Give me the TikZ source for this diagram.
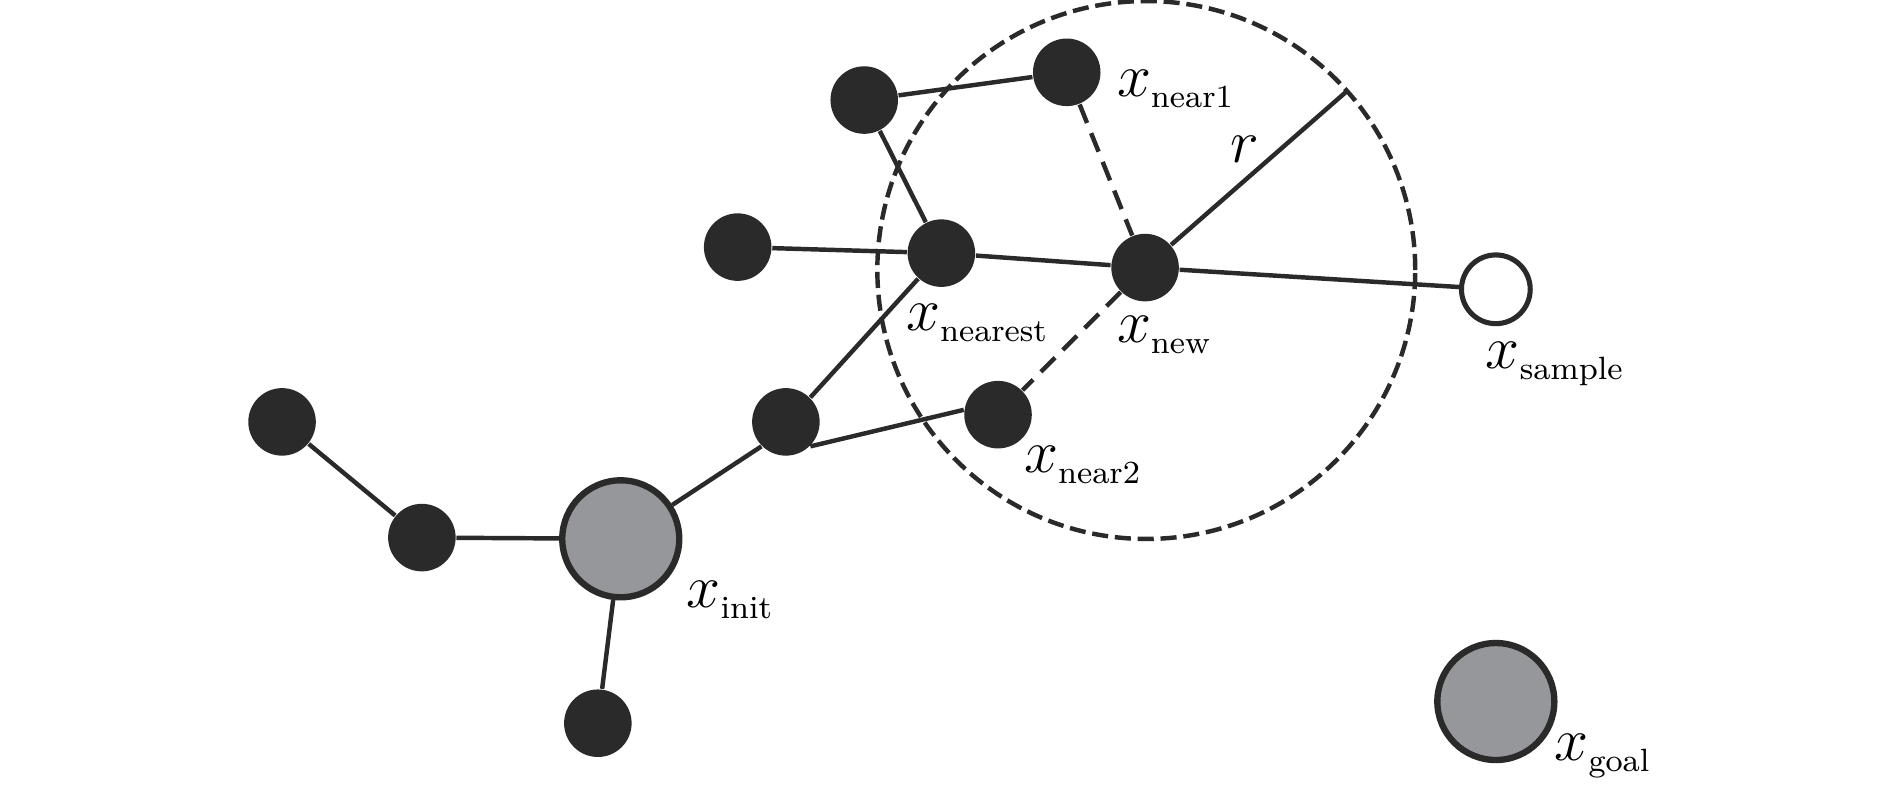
\documentclass[tikz,border=0pt]{standalone}
\definecolor{nodeblk}{HTML}{2B2A2B}
\definecolor{nodegray}{HTML}{96979B}
\newcommand{\xlab}[1]{$x\raisebox{-2.6pt}{\fontsize{7.6}{9}\selectfont\rmfamily #1}$}
\tikzset{
  blk/.style={circle, fill=nodeblk, minimum size=0.56cm, inner sep=0pt},
  grayn/.style={circle, fill=nodegray, draw=nodeblk, line width=1.5pt, minimum size=0.97cm, inner sep=0pt},
  opn/.style={circle, fill=white, draw=nodeblk, line width=1.2pt, minimum size=0.57cm, inner sep=0pt},
  edge/.style={draw=nodeblk, line width=1.05pt},
  dedge/.style={draw=nodeblk, line width=1.05pt, dash pattern=on 4.7pt off 2.6pt},
  lbl/.style={font=\fontsize{14}{16}\selectfont, inner sep=0pt, anchor=base west}
}
\begin{document}
\begin{tikzpicture}[x=0.01cm, y=-0.01cm]
\useasboundingbox (0,0) rectangle (1568,657);
% dashed circle
\draw[draw=nodeblk, line width=1.05pt, dash pattern=on 3.8pt off 1.6pt] (951,224) circle (2.23cm);
% nodes
\node[blk] (A) at (717,83) {};
\node[blk] (N1) at (885,60) {};
\node[blk] (L) at (612,205) {};
\node[blk] (NR) at (781,210) {};
\node[blk] (NEW) at (950,222) {};
\node[opn] (S) at (1241,240) {};
\node[blk] (N2) at (828,344) {};
\node[blk] (M) at (652,350) {};
\node[blk] (FL) at (234,350) {};
\node[blk] (B) at (350,446) {};
\node[blk] (D) at (496,600) {};
\node[grayn] (I) at (515,447) {};
\node[grayn] (G) at (1241,582) {};
\coordinate (R) at (1117,76);
% edges
\draw[edge] (A) -- (N1);
\draw[edge] (A) -- (NR);
\draw[edge] (L) -- (NR);
\draw[edge] (NR) -- (NEW);
\draw[edge] (NEW) -- (S);
\draw[edge] (NR) -- (M.45);
\draw[edge] (M.-45) -- (N2.172);
\draw[edge] (M.-135) -- (I);
\draw[edge] (FL) -- (B);
\draw[edge] (B) -- (I);
\draw[edge] (I) -- (D);
\draw[edge] (NEW) -- (R);
\draw[dedge] (N1) -- (NEW);
\draw[dedge] (NEW) -- (N2);
% labels
\node[lbl] (lN1) at (926,80) {\xlab{near1}};
\node[lbl] (lr) at (1020,135) {$r$};
\node[lbl] (lNR) at (751,274) {\xlab{nearest}};
\node[lbl] (lNEW) at (926,284) {\xlab{new}};
\node[lbl] (lS) at (1232,306) {\xlab{sample}};
\node[lbl] (lN2) at (849,392) {\xlab{near2}};
\node[lbl] (lI) at (569,504) {\xlab{init}};
\node[lbl] (lG) at (1289,631) {\xlab{goal}};
\end{tikzpicture}
\end{document}
